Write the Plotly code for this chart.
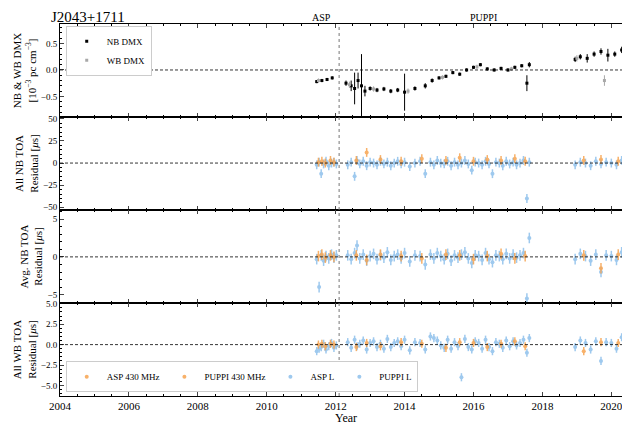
import plotly.graph_objects as go
from plotly.subplots import make_subplots

# ---- DMX ----
dmx_epochs = [2011.45,2011.6,2011.75,2011.9,2012.3,2012.45,2012.55,2012.65,2012.75,2012.85,2013.0,2013.2,2013.4,2013.6,2013.8,2014.0,2014.3,2014.6,2014.8,2015.0,2015.2,2015.4,2015.6,2015.8,2016.0,2016.2,2016.4,2016.6,2016.8,2017.0,2017.2,2017.4,2017.55,2017.62,2018.95,2019.1,2019.3,2019.5,2019.7,2019.9,2020.1,2020.3,2020.5,2020.6]
nb_dmx = [-0.22,-0.2,-0.18,-0.15,-0.25,-0.3,-0.35,-0.2,-0.3,-0.4,-0.35,-0.38,-0.36,-0.4,-0.38,-0.42,-0.35,-0.3,-0.2,-0.15,-0.12,-0.05,-0.08,0.0,0.05,0.1,0.02,0.0,0.03,0.0,0.05,0.08,-0.25,0.1,0.2,0.25,0.22,0.3,0.35,0.28,0.3,0.38,0.4,0.5]
nb_dmx_err = [0.03,0.03,0.03,0.03,0.05,0.1,0.3,0.15,0.6,0.1,0.04,0.04,0.04,0.04,0.04,0.35,0.04,0.05,0.04,0.03,0.03,0.03,0.03,0.03,0.03,0.03,0.03,0.03,0.03,0.03,0.03,0.03,0.15,0.05,0.05,0.05,0.08,0.05,0.06,0.12,0.05,0.06,0.06,0.15]
wb_dmx_epochs = [2011.5,2012.4,2013.1,2014.1,2015.1,2016.1,2017.1,2019.0,2019.8,2020.4]
wb_dmx = [-0.2,-0.28,-0.36,-0.4,-0.14,0.06,0.02,0.22,-0.2,0.36]
wb_dmx_err = [0.04,0.06,0.05,0.05,0.04,0.04,0.04,0.06,0.1,0.06]

# ---- TOA epochs ----
puppiL_ep = [2012.35,2012.45,2012.55,2012.62,2012.7,2012.8,2012.9,2013.0,2013.1,2013.2,2013.3,2013.4,2013.5,2013.6,2013.7,2013.8,2013.9,2014.0,2014.15,2014.3,2014.45,2014.6,2014.75,2014.85,2014.95,2015.05,2015.15,2015.25,2015.35,2015.45,2015.55,2015.65,2015.75,2015.85,2015.95,2016.05,2016.15,2016.25,2016.35,2016.45,2016.55,2016.65,2016.75,2016.85,2016.95,2017.05,2017.15,2017.25,2017.35,2017.45,2017.55,2017.62,2018.95,2019.1,2019.25,2019.4,2019.55,2019.7,2019.85,2020.0,2020.15,2020.3,2020.45,2020.6]
aspL_ep = [2011.45,2011.52,2011.58,2011.65,2011.72,2011.8,2011.88,2011.95,2012.02]
asp430_ep = [2011.5,2011.6,2011.7,2011.85,2011.95]
puppi430_ep = [2012.6,2012.9,2013.3,2013.9,2014.5,2015.2,2015.6,2016.0,2016.4,2016.8,2017.2,2017.5,2019.2,2019.7,2020.2,2020.5]

# All NB residuals (us)
nb_puppiL = [-2,1,-15,3,-1,2,-3,1,0,-2, 2,-1,1,-3,0,2,-1,1,-4,0, 2,-12,1,-2,3,0,-1,2,-3,1, -2,0,3,-1,-8,1,0,-2,2,-1, -12,1,0,-3,2,-1,1,-2,0,3, -40,1,-2,1,0,-3,2,-1,1,0, -2,3,-1,1]
nb_aspL = [-2,1,-12,-1,2,-3,0,1,-1]
nb_asp430 = [1,2,0,3,1]
nb_puppi430 = [3,12,4,2,5,3,6,2,4,3,5,2,3,4,2,3]
# Avg NB residuals
avg_puppiL = [0.2,-0.3,0.5,1.5,-0.2,0.3,-0.5,0.1,0.4,-0.3, 0.2,-0.1,0.6,-0.4,0.1,0.3,-0.2,0.5,-0.6,0.2, 0.1,-1.0,0.3,-0.2,0.5,0.1,-0.3,0.4,-0.5,0.2, -0.1,0.3,0.6,-0.2,-0.8,0.2,0.1,-0.4,0.5,-0.3, -0.7,0.2,0.1,-0.3,0.4,-0.2,0.3,-0.1,0.2,0.5, -5.5,2.5,-0.3,0.4,0.1,-0.5,0.3,-2.0,0.2,0.1, -0.4,0.6,-0.2,0.3]
avg_aspL = [-0.3,-4.0,0.2,-0.5,0.1,-0.2,0.3,-0.1,0.2]
avg_asp430 = [0.1,0.3,-0.1,0.2,0.0]
avg_puppi430 = [0.2,-0.4,0.3,0.1,-0.2,0.3,0.2,-0.3,0.1,0.4,-0.2,0.1,0.2,-1.5,0.3,-0.5]
# WB residuals
wb_puppiL = [0.3,-0.4,0.6,-0.2,0.1,0.5,-0.6,0.2,0.4,-0.3, 0.1,-0.5,0.7,-0.3,0.2,0.4,-0.2,0.6,-0.7,0.3, 0.2,-0.6,1.0,0.8,0.5,-0.1,-0.4,0.6,-0.5,0.3, -0.2,-4.0,0.7,-0.3,-0.6,0.4,0.2,-0.5,0.6,-0.3, -0.8,0.3,0.1,-0.4,0.5,-0.2,0.4,-0.1,0.2,0.6, -1.0,0.8,-0.3,0.5,0.2,-0.6,0.4,-2.0,0.3,0.2, -0.5,0.9,1.2,0.4]
wb_aspL = [-0.8,-0.5,-0.3,0.1,-0.6,-0.2,0.2,-0.4,-0.1]
wb_asp430 = [0.0,0.1,-0.2,0.1,0.0]
wb_puppi430 = [-0.3,0.2,-0.2,0.3,0.1,-0.4,0.3,0.2,-0.3,0.1,0.4,-0.2,-0.8,0.3,0.2,0.5]

err_nb, err_avg, err_wb = 5.0, 0.7, 0.5

ORANGE = "#F7A450"
BLUE = "#8EC0EC"
FONT = "Liberation Serif"

fig = make_subplots(rows=4, cols=1, shared_xaxes=True, vertical_spacing=0)

fig.add_trace(go.Scatter(x=dmx_epochs, y=nb_dmx, mode="markers", name="NB DMX", legendrank=1,
    marker=dict(color="black", size=3, symbol="square"),
    error_y=dict(type="data", array=nb_dmx_err, color="black", thickness=1, width=0), legend="legend"), row=1, col=1)
fig.add_trace(go.Scatter(x=wb_dmx_epochs, y=wb_dmx, mode="markers", name="WB DMX", legendrank=2,
    marker=dict(color="#A8A8A8", size=3, symbol="square"),
    error_y=dict(type="data", array=wb_dmx_err, color="#A8A8A8", thickness=1, width=0), legend="legend"), row=1, col=1)

panels = [(2, nb_asp430, nb_puppi430, nb_aspL, nb_puppiL, err_nb),
          (3, avg_asp430, avg_puppi430, avg_aspL, avg_puppiL, err_avg),
          (4, wb_asp430, wb_puppi430, wb_aspL, wb_puppiL, err_wb)]
ranks = {"ASP 430 MHz": 1, "PUPPI 430 MHz": 2, "ASP L": 3, "PUPPI L": 4}
for row, a430, p430, aL, pL, e in panels:
    show = row == 4
    for ep, vals, nm, col in [(aspL_ep, aL, "ASP L", BLUE), (puppiL_ep, pL, "PUPPI L", BLUE),
                              (asp430_ep, a430, "ASP 430 MHz", ORANGE), (puppi430_ep, p430, "PUPPI 430 MHz", ORANGE)]:
        fig.add_trace(go.Scatter(x=ep, y=vals, mode="markers", name=nm, showlegend=show,
            legend="legend2", legendrank=ranks[nm], opacity=0.85,
            marker=dict(color=col, size=4, symbol="circle"),
            error_y=dict(type="constant", value=e, color=col, thickness=1.5, width=0)), row=row, col=1)

yranges = {1: [-0.89, 0.87], 2: [-53, 52], 3: [-6.1, 6.2], 4: [-6.3, 5.1]}
ydt = {1: 0.5, 2: 25, 3: 5, 4: 2.5}
yfmt = {1: ".1f", 2: "d", 3: "d", 4: ".1f"}
ymin = {1: 0.1, 2: 5, 3: 1, 4: 0.5}
ytitles = {1: "NB & WB DMX<br>[10<sup>−3</sup> pc cm<sup>−3</sup>]", 2: "All NB TOA<br>Residual [<i>μ</i>s]",
           3: "Avg. NB TOA<br>Residual [<i>μ</i>s]", 4: "All WB TOA<br>Residual [<i>μ</i>s]"}
for r in range(1, 5):
    fig.update_yaxes(row=r, col=1, range=yranges[r], dtick=ydt[r], tickformat=yfmt[r],
        ticks="inside", ticklen=4, showline=True, linecolor="black", linewidth=1, mirror="ticks",
        minor=dict(ticks="inside", ticklen=2, dtick=ymin[r], tickcolor="black"),
        showgrid=False, zeroline=False, title=dict(text=ytitles[r], font=dict(size=11), standoff=2),
        tickfont=dict(size=9))
    fig.add_hline(y=0, line=dict(color="black", width=0.8, dash="3px,2px"), row=r, col=1)
    fig.update_xaxes(row=r, col=1, range=[2004, 2020.6], dtick=2, ticks="inside", ticklen=4,
        showline=True, linecolor="black", linewidth=1, mirror="ticks", showgrid=False, zeroline=False,
        minor=dict(ticks="inside", ticklen=2, dtick=0.5, tickcolor="black"), tickfont=dict(size=11))

fig.add_annotation(text="Year", xref="paper", yref="paper", x=0.5, y=0, yanchor="top", yshift=-13,
                   showarrow=False, font=dict(size=12))
fig.add_shape(type="line", xref="x", yref="paper", x0=2012.1, x1=2012.1, y0=0, y1=1,
              line=dict(color="#777", width=1, dash="dot"))
fig.add_annotation(text="ASP", xref="x", yref="paper", x=2011.6, y=1.0, yanchor="bottom", yshift=-1,
                   showarrow=False, font=dict(size=10))
fig.add_annotation(text="PUPPI", xref="x", yref="paper", x=2016.3, y=1.0, yanchor="bottom", yshift=-1,
                   showarrow=False, font=dict(size=10))
fig.add_annotation(text="J2043+1711", xref="paper", yref="paper", x=-0.02, y=1.0, xanchor="left",
                   yanchor="bottom", yshift=-3, showarrow=False, font=dict(size=15))

fig.update_layout(
    width=630, height=423, margin=dict(l=52, r=6, t=16, b=35),
    plot_bgcolor="white", paper_bgcolor="white",
    font=dict(family=FONT, color="black"),
    legend=dict(x=0.01, y=0.995, xanchor="left", yanchor="top", bgcolor="white",
                bordercolor="#ccc", borderwidth=1, font=dict(size=9), tracegroupgap=0),
    legend2=dict(x=0.01, y=0.01, xanchor="left", yanchor="bottom", orientation="h", bgcolor="white",
                 bordercolor="#ccc", borderwidth=1, font=dict(size=9)),
)
fig.write_html("out.html")
